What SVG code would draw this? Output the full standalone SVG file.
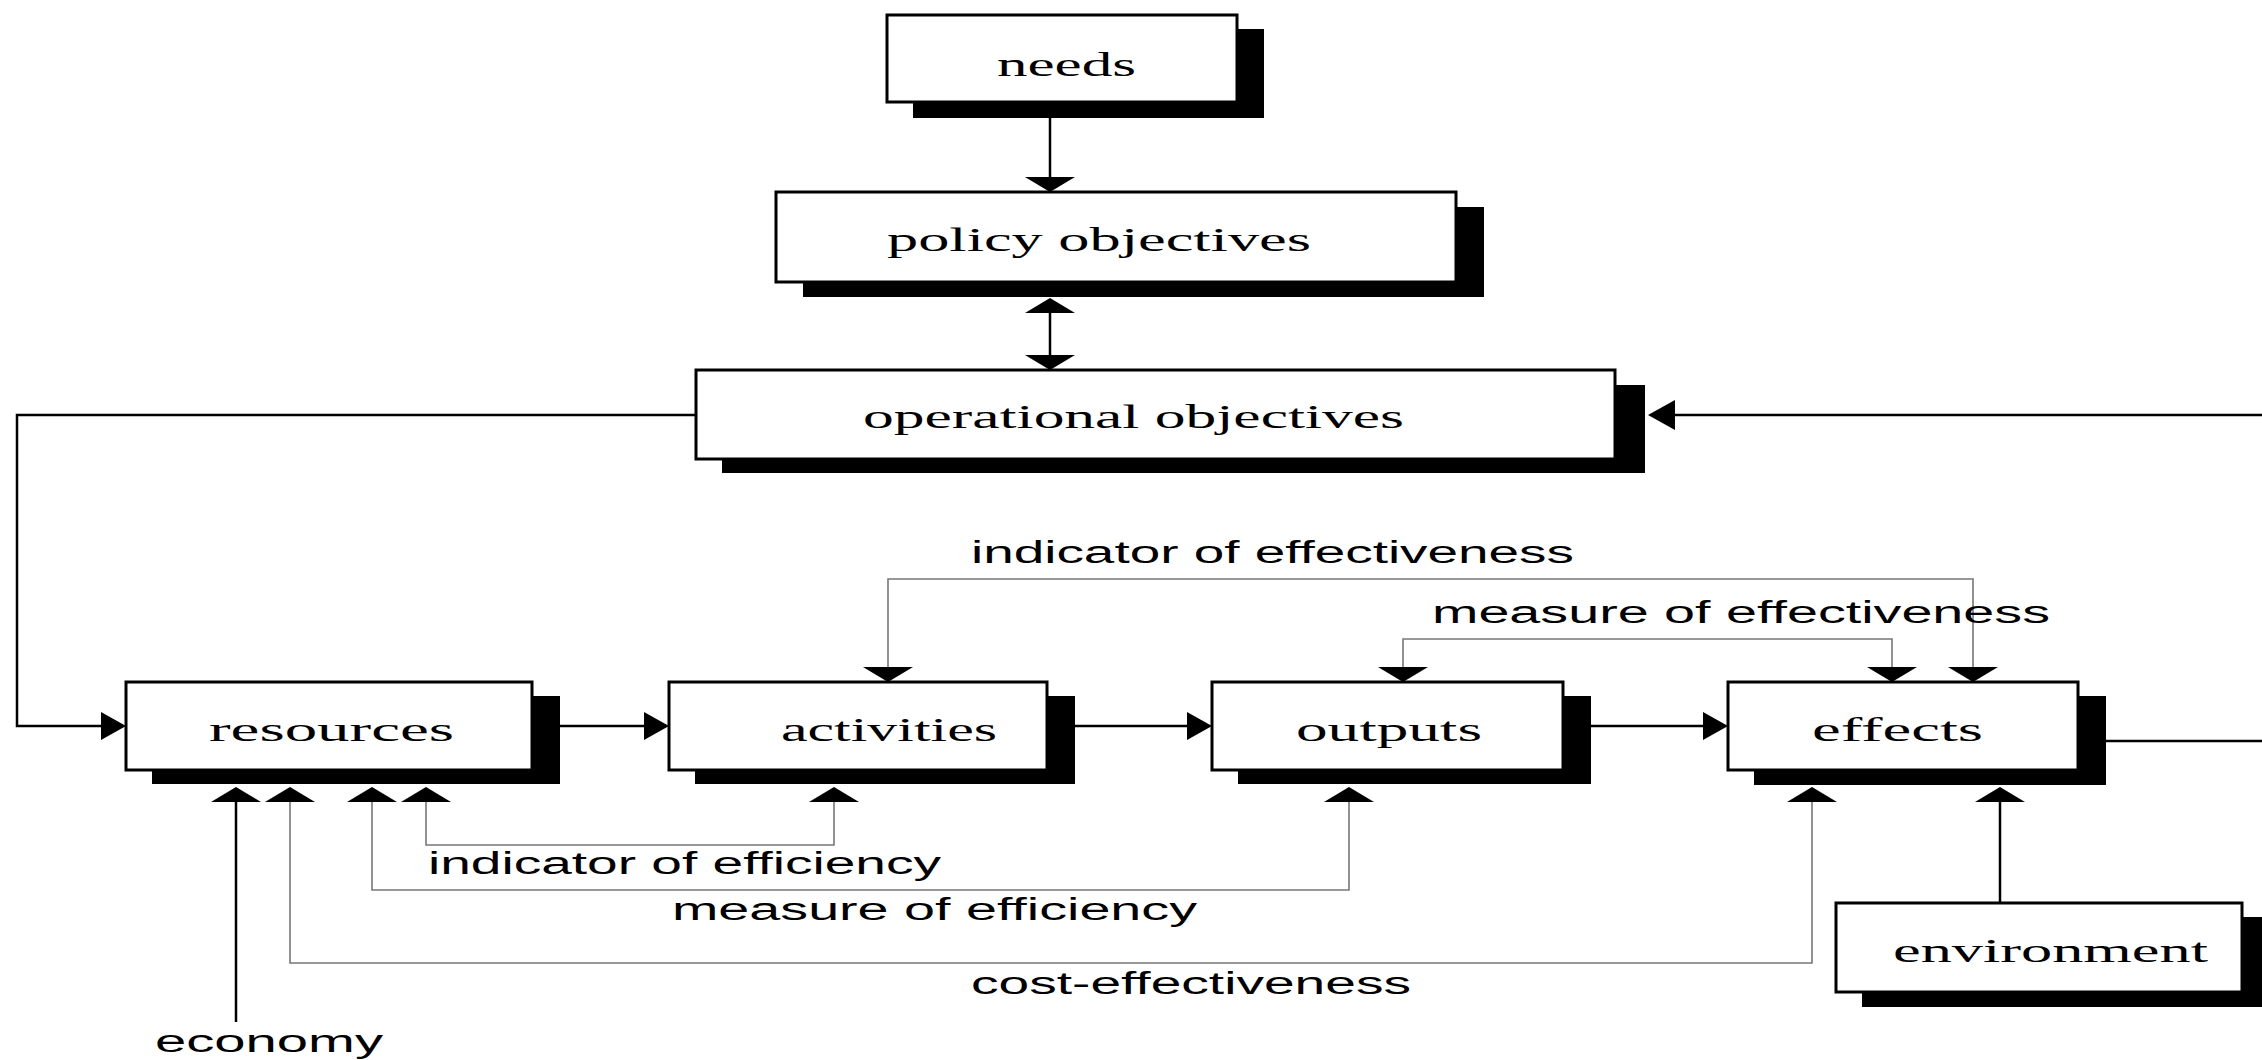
<svg xmlns="http://www.w3.org/2000/svg" xmlns:xlink="http://www.w3.org/1999/xlink" width="2262" height="1060" viewBox="0 0 2262 1060">
<style>
.box{fill:#fff;stroke:#000;stroke-width:3}
.sh{fill:#000}
.flow{fill:none;stroke:#000;stroke-width:2.5}
.ind{fill:none;stroke:#777;stroke-width:1.6}
.ah{fill:#000}
.lab{font-family:"Liberation Serif","Times New Roman",serif;font-size:33px;fill:#000}
.cap{font-family:"Liberation Sans",Arial,sans-serif;font-size:31px;fill:#000}
</style>
<defs>
<path id="aD" d="M-25,-15 L25,-15 L0,0 Z"/>
<path id="aU" d="M-25,15 L25,15 L0,0 Z"/>
<path id="aR" d="M-25,-14 L-25,14 L0,0 Z"/>
<path id="aL" d="M27,-15 L27,15 L0,0 Z"/>
</defs>
<rect width="2262" height="1060" fill="#fff"/>

<g id="connectors">
<path class="flow" d="M1050,118 V178"/>
<use href="#aD" class="ah" x="1050" y="192"/>
<path class="flow" d="M1050,312 V356"/>
<use href="#aU" class="ah" x="1050" y="298"/>
<use href="#aD" class="ah" x="1050" y="370"/>
<path class="flow" d="M696,415 H17 V726 H102"/>
<use href="#aR" class="ah" x="126" y="726"/>
<path class="flow" d="M2262,415 H1674"/>
<use href="#aL" class="ah" x="1648" y="415"/>
<path class="flow" d="M559,726 H645"/>
<use href="#aR" class="ah" x="669" y="726"/>
<path class="flow" d="M1074,726 H1188"/>
<use href="#aR" class="ah" x="1212" y="726"/>
<path class="flow" d="M1590,726 H1704"/>
<use href="#aR" class="ah" x="1728" y="726"/>
<path class="flow" d="M2105,741 H2262"/>

<path class="ind" d="M888,668 V579 H1973 V668"/>
<use href="#aD" class="ah" x="888" y="682"/>
<use href="#aD" class="ah" x="1973" y="682"/>
<path class="ind" d="M1403,668 V639 H1892 V668"/>
<use href="#aD" class="ah" x="1403" y="682"/>
<use href="#aD" class="ah" x="1892" y="682"/>

<path class="ind" d="M426,801 V845 H834 V801"/>
<use href="#aU" class="ah" x="426" y="787"/>
<use href="#aU" class="ah" x="834" y="787"/>
<path class="ind" d="M372,801 V890 H1349 V801"/>
<use href="#aU" class="ah" x="372" y="787"/>
<use href="#aU" class="ah" x="1349" y="787"/>
<path class="ind" d="M290,801 V963 H1812 V801"/>
<use href="#aU" class="ah" x="290" y="787"/>
<use href="#aU" class="ah" x="1812" y="787"/>
<path class="flow" d="M236,801 V1022"/>
<use href="#aU" class="ah" x="236" y="787"/>
<path class="flow" d="M2000,903 V801"/>
<use href="#aU" class="ah" x="2000" y="787"/>

<text class="cap" x="971" y="563" textLength="603" lengthAdjust="spacingAndGlyphs">indicator of effectiveness</text>
<text class="cap" x="1432" y="623" textLength="618" lengthAdjust="spacingAndGlyphs">measure of effectiveness</text>
<text class="cap" x="428" y="874" textLength="513" lengthAdjust="spacingAndGlyphs">indicator of efficiency</text>
<text class="cap" x="672" y="920" textLength="525" lengthAdjust="spacingAndGlyphs">measure of efficiency</text>
<text class="cap" x="971" y="994" textLength="440" lengthAdjust="spacingAndGlyphs">cost-effectiveness</text>
<text class="cap" x="155" y="1052" textLength="228" lengthAdjust="spacingAndGlyphs">economy</text>
</g>

<g id="needs">
<rect class="sh" x="913" y="29" width="351" height="89"/>
<rect class="box" x="887" y="15" width="350" height="87"/>
<text class="lab" x="997" y="76" textLength="139" lengthAdjust="spacingAndGlyphs">needs</text>
</g>
<g id="policy-objectives">
<rect class="sh" x="803" y="207" width="681" height="90"/>
<rect class="box" x="776" y="192" width="680" height="90"/>
<text class="lab" x="887" y="251" textLength="424" lengthAdjust="spacingAndGlyphs">policy objectives</text>
</g>
<g id="operational-objectives">
<rect class="sh" x="722" y="385" width="923" height="88"/>
<rect class="box" x="696" y="370" width="919" height="89"/>
<text class="lab" x="863" y="428" textLength="541" lengthAdjust="spacingAndGlyphs">operational objectives</text>
</g>
<g id="resources">
<rect class="sh" x="152" y="696" width="408" height="88"/>
<rect class="box" x="126" y="682" width="406" height="88"/>
<text class="lab" x="209" y="741" textLength="245" lengthAdjust="spacingAndGlyphs">resources</text>
</g>
<g id="activities">
<rect class="sh" x="695" y="696" width="380" height="88"/>
<rect class="box" x="669" y="682" width="378" height="88"/>
<text class="lab" x="781" y="741" textLength="216" lengthAdjust="spacingAndGlyphs">activities</text>
</g>
<g id="outputs">
<rect class="sh" x="1238" y="696" width="353" height="88"/>
<rect class="box" x="1212" y="682" width="351" height="88"/>
<text class="lab" x="1296" y="741" textLength="186" lengthAdjust="spacingAndGlyphs">outputs</text>
</g>
<g id="effects">
<rect class="sh" x="1754" y="696" width="352" height="89"/>
<rect class="box" x="1728" y="682" width="350" height="88"/>
<text class="lab" x="1812" y="741" textLength="171" lengthAdjust="spacingAndGlyphs">effects</text>
</g>
<g id="environment">
<rect class="sh" x="1862" y="917" width="410" height="90"/>
<rect class="box" x="1836" y="903" width="406" height="89"/>
<text class="lab" x="1893" y="962" textLength="315" lengthAdjust="spacingAndGlyphs">environment</text>
</g>
</svg>
